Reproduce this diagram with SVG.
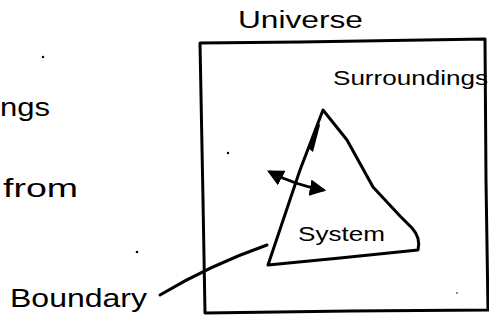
<svg xmlns="http://www.w3.org/2000/svg" width="489" height="325" viewBox="0 0 489 325">
<style>
.ink{fill:none;stroke:#000;stroke-width:3;stroke-linecap:round;stroke-linejoin:round}
.t{font-family:"Liberation Sans","DejaVu Sans",sans-serif;fill:#000}
</style>
<defs>
<marker id="ah" viewBox="0 0 10 10" refX="8" refY="5" markerWidth="5.5" markerHeight="5.5" orient="auto-start-reverse">
<path d="M0,0 L10,5 L0,10 Z" fill="#000"/>
</marker>
</defs>
<rect width="489" height="325" fill="#fff"/>
<g id="left-text">
<text class="t" x="0" y="116" font-size="26" textLength="50" lengthAdjust="spacingAndGlyphs">ngs</text>
<text class="t" x="3" y="197" font-size="26" textLength="75" lengthAdjust="spacingAndGlyphs">from</text>
</g>
<g id="universe">
<path class="ink" d="M200,43 L300,42 L485,39 L486,180 L488,310 L350,311 L205,313 L203,200 Z"/>
<text class="t" x="238" y="28" font-size="23" textLength="125" lengthAdjust="spacingAndGlyphs">Universe</text>
</g>
<g id="surroundings">
<text class="t" x="333" y="85" font-size="21" textLength="155" lengthAdjust="spacingAndGlyphs">Surroundings</text>
</g>
<g id="system">
<path class="ink" d="M323,110 L300,170 L268,265 L340,258 L418,250 Q421,238 412,228 L400,216 L373,187 L347,140 Z"/>
<path d="M318,122 L308,148 L313,152 L320,125 Z" fill="#000"/>
<text class="t" x="298" y="241" font-size="21" textLength="87" lengthAdjust="spacingAndGlyphs">System</text>
</g>
<g id="boundary">
<text class="t" x="10" y="307" font-size="26" textLength="137" lengthAdjust="spacingAndGlyphs">Boundary</text>
</g>
<g id="connectors">
<path class="ink" d="M160,295 Q210,265 267,245"/>
<path class="ink" d="M270,172 Q295,185 323,190" marker-start="url(#ah)" marker-end="url(#ah)"/>
</g>
<g id="dots" fill="#000">
<circle cx="43" cy="57" r="1.2"/>
<circle cx="137" cy="252" r="1.3"/>
<circle cx="228" cy="153" r="1.2"/>
<circle cx="457" cy="293" r="0.8"/>
</g>
</svg>
